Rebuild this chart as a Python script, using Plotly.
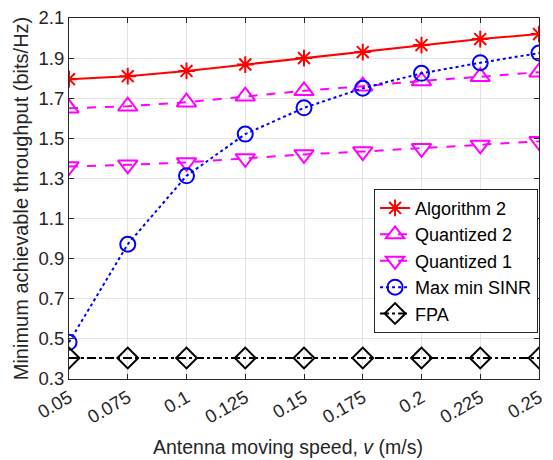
import plotly.graph_objects as go

speed = [0.05, 0.075, 0.1, 0.125, 0.15, 0.175, 0.2, 0.225, 0.25]
speed_labels = ["0.05", "0.075", "0.1", "0.125", "0.15", "0.175", "0.2", "0.225", "0.25"]
alg2 = [1.795, 1.81, 1.836, 1.868, 1.90, 1.93, 1.965, 1.995, 2.02]
quant2 = [1.65, 1.66, 1.68, 1.71, 1.737, 1.76, 1.786, 1.807, 1.83]
quant1 = [1.36, 1.368, 1.38, 1.40, 1.42, 1.434, 1.45, 1.467, 1.485]
maxmin = [0.483, 0.972, 1.313, 1.521, 1.652, 1.75, 1.824, 1.877, 1.925]
fpa = [0.405] * 9
y_ticks = [0.3, 0.5, 0.7, 0.9, 1.1, 1.3, 1.5, 1.7, 1.9, 2.1]

FONT = "Liberation Sans, Arial, sans-serif"
TXT = "#262626"

fig = go.Figure()
series = [
    ("Algorithm 2", alg2, "#ff0000", "solid", "asterisk-open", 14),
    ("Quantized 2", quant2, "#ff00ff", "dash", "triangle-up-open", 17),
    ("Quantized 1", quant1, "#ff00ff", "dash", "triangle-down-open", 17),
    ("Max min SINR", maxmin, "#0000ff", "dot", "circle-open", 15),
    ("FPA", fpa, "#000000", "dashdot", "diamond-open", 16),
]
for name, ys, col, dash, sym, size in series:
    fig.add_trace(go.Scatter(
        x=speed, y=ys, name=name, mode="lines+markers",
        line=dict(color=col, width=2, dash=dash),
        marker=dict(symbol=sym, size=size, color=col, line=dict(color=col, width=2)),
    ))

axis_common = dict(
    showline=True, linecolor=TXT, linewidth=1, mirror="ticks",
    ticks="inside", ticklen=5, tickcolor=TXT,
    showgrid=True, gridcolor="#e3e3e3", gridwidth=1, zeroline=False,
    tickfont=dict(family=FONT, size=18.5, color=TXT),
)

fig.update_layout(
    width=553, height=460,
    margin=dict(l=69, r=7, t=12, b=81),
    paper_bgcolor="white", plot_bgcolor="white",
    font=dict(family=FONT, color=TXT),
    xaxis=dict(
        range=[0.05, 0.25], tickvals=speed, ticktext=speed_labels, tickangle=-30,
        **axis_common,
    ),
    yaxis=dict(
        range=[0.3, 2.1], tickvals=y_ticks, ticktext=[f"{v:.1f}" for v in y_ticks],
        title=dict(text="Minimum achievable throughput (bits/Hz)", font=dict(family=FONT, size=20, color=TXT), standoff=4),
        **axis_common,
    ),
    legend=dict(
        x=0.998, y=0.527, xanchor="right", yanchor="top",
        bgcolor="white", bordercolor=TXT, borderwidth=1,
        font=dict(family=FONT, size=18, color="#000000"),
        tracegroupgap=0, itemwidth=30,
    ),
    annotations=[dict(
        text="Antenna moving speed, <i>v</i> (m/s)", xref="paper", yref="paper",
        x=(291 - 69) / (546 - 69), y=-(448 - 379) / 367, xanchor="center", yanchor="middle",
        showarrow=False, font=dict(family=FONT, size=19.5, color=TXT),
    )],
    showlegend=True,
)

fig.write_html("out.html")
